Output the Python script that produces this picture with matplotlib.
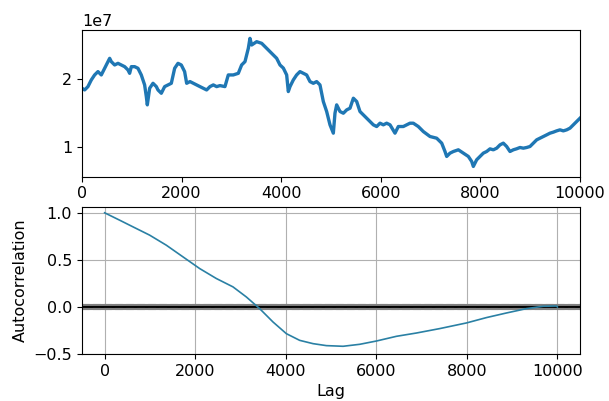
"""
Serie temporal (arriba) y su autocorrelación (abajo), como autocorrelation_plot de pandas.
Los valores se leyeron a ojo de la imagen de referencia.
"""

import numpy as np
import matplotlib
matplotlib.use("Agg")
import matplotlib.pyplot as plt
from matplotlib.ticker import MultipleLocator

plt.rcParams["font.size"] = 11.5

# serie original (x = índice, y en unidades de 1e7)
serie_x = [0, 54, 120, 187, 254, 321, 388, 455, 522, 556, 589, 656, 723, 790, 857,
           924, 957, 991, 1058, 1124, 1191, 1258, 1292, 1312, 1359, 1426, 1493, 1526,
           1593, 1660, 1727, 1794, 1861, 1928, 1994, 2061, 2102, 2169, 2235, 2369,
           2503, 2570, 2637, 2704, 2771, 2871, 2938, 3038, 3139, 3206, 3273, 3340,
           3373, 3407, 3507, 3608, 3708, 3809, 3909, 3976, 4043, 4110, 4143, 4177,
           4243, 4310, 4377, 4444, 4511, 4578, 4645, 4712, 4779, 4846, 4913, 4980,
           5047, 5080, 5114, 5181, 5248, 5315, 5382, 5449, 5516, 5582, 5649, 5716,
           5783, 5850, 5917, 5984, 6051, 6118, 6185, 6285, 6352, 6452, 6586, 6653,
           6753, 6854, 6988, 7122, 7223, 7289, 7323, 7390, 7457, 7557, 7657, 7758,
           7825, 7858, 7925, 7992, 8059, 8126, 8193, 8260, 8327, 8394, 8460, 8527,
           8594, 8661, 8728, 8795, 8862, 8929, 8996, 9063, 9130, 9197, 9263, 9330,
           9397, 9464, 9531, 9598, 9665, 9732, 9799, 9866, 9933, 10000]
serie_y = [1.863, 1.838, 1.887, 1.985, 2.059, 2.108, 2.059, 2.157, 2.255, 2.304, 2.255,
           2.206, 2.230, 2.206, 2.181, 2.132, 2.083, 2.181, 2.181, 2.157, 2.059, 1.912,
           1.740, 1.618, 1.863, 1.936, 1.887, 1.838, 1.789, 1.887, 1.912, 1.936, 2.157,
           2.230, 2.206, 2.108, 1.936, 1.961, 1.936, 1.887, 1.838, 1.887, 1.912, 1.887,
           1.902, 1.887, 2.059, 2.059, 2.083, 2.206, 2.255, 2.451, 2.598, 2.500, 2.549,
           2.525, 2.451, 2.377, 2.304, 2.206, 2.160, 2.059, 1.814, 1.887, 1.985, 2.059,
           2.108, 2.083, 2.059, 1.961, 1.936, 1.961, 1.912, 1.667, 1.520, 1.324, 1.201,
           1.495, 1.618, 1.520, 1.495, 1.544, 1.569, 1.716, 1.667, 1.520, 1.471, 1.422,
           1.373, 1.324, 1.299, 1.348, 1.324, 1.348, 1.324, 1.201, 1.299, 1.299, 1.348,
           1.348, 1.299, 1.225, 1.152, 1.127, 1.054, 0.931, 0.858, 0.907, 0.931, 0.956,
           0.907, 0.858, 0.784, 0.711, 0.809, 0.858, 0.907, 0.931, 0.970, 0.956, 0.980,
           1.029, 1.054, 1.005, 0.931, 0.956, 0.971, 0.990, 0.980, 0.990, 1.005, 1.054,
           1.103, 1.127, 1.152, 1.176, 1.201, 1.216, 1.235, 1.250, 1.235, 1.250, 1.275,
           1.324, 1.373, 1.422]

acf_lag = [1, 331, 626, 994, 1363, 1731, 2099, 2468, 2836, 3131, 3425, 3720, 4015,
           4309, 4604, 4899, 5267, 5635, 6004, 6446, 6888, 7403, 7993, 8435, 8877,
           9319, 9687, 9982, 10000]
acf_val = [1.0, 0.922, 0.851, 0.763, 0.656, 0.532, 0.408, 0.302, 0.213, 0.106, -0.018,
           -0.160, -0.284, -0.355, -0.390, -0.411, -0.418, -0.397, -0.362, -0.312,
           -0.277, -0.230, -0.170, -0.113, -0.064, -0.018, 0.007, 0.010, 0.0]

n_obs = 10000  # longitud de la serie original
z95 = 1.959963984540054
z99 = 2.5758293035489004

fig = plt.figure(figsize=(6.09, 4.01), dpi=100)
ax_top = fig.add_axes([0.1346, 0.5594, 0.8178, 0.3656])
ax_bot = fig.add_axes([0.1346, 0.1172, 0.8178, 0.3674])

ax_top.plot(serie_x, np.array(serie_y) * 1e7, color="C0", lw=2.4)
ax_top.set_xlim(0, 10000)
ax_top.set_ylim(0.56e7, 2.72e7)
ax_top.yaxis.set_major_locator(MultipleLocator(1e7))

ax_bot.axhline(z99 / np.sqrt(n_obs), ls="--", color="grey")
ax_bot.axhline(z95 / np.sqrt(n_obs), color="grey")
ax_bot.axhline(0.0, color="black")
ax_bot.axhline(-z95 / np.sqrt(n_obs), color="grey")
ax_bot.axhline(-z99 / np.sqrt(n_obs), ls="--", color="grey")
ax_bot.plot(acf_lag, acf_val, color="#2a80a4", lw=1.2)
ax_bot.set_ylim(-0.5, 1.065)
ax_bot.set_xlabel("Lag")
ax_bot.set_ylabel("Autocorrelation")
ax_bot.set_xticks([0, 2000, 4000, 6000, 8000, 10000])
ax_bot.grid()

fig.savefig("out.png", dpi=100)
